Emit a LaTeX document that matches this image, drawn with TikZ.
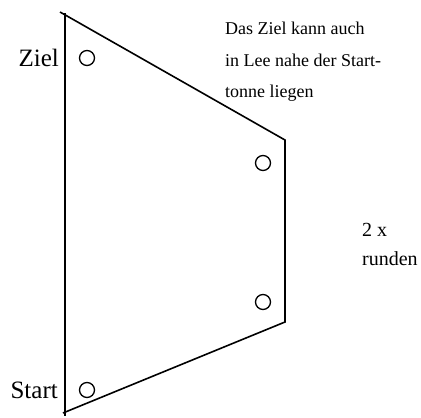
\documentclass[tikz,border=0pt]{standalone}
\usepackage{fontspec}
\setmainfont{Liberation Serif}
\begin{document}
\begin{tikzpicture}[x=1pt,y=-1pt,
  edge/.style={line width=1.6pt},
  thick edge/.style={line width=2.6pt},
  buoy/.style={circle,draw,line width=1.3pt,minimum size=15pt,inner sep=0pt},
  big/.style={font=\fontsize{25}{28}\selectfont,inner sep=0pt},
  small/.style={font=\fontsize{18}{21}\selectfont,inner sep=0pt},
  side/.style={font=\fontsize{20}{23}\selectfont,inner sep=0pt}]
\useasboundingbox (0,0) rectangle (421,418);
\coordinate (vt) at (65,13);
\coordinate (vb) at (65,416);
\coordinate (tl) at (60,12);
\coordinate (tr) at (285,140);
\coordinate (br) at (285,322);
\coordinate (bl) at (63,413);
\draw[thick edge] (vt) -- (vb);
\draw[edge] (tl) -- (tr) -- (br) -- (bl);
\node[buoy] (b1) at (87,58) {};
\node[buoy] (b2) at (263,163) {};
\node[buoy] (b3) at (263,302) {};
\node[buoy] (b4) at (87,390) {};
\node[big,anchor=base east] (ziel) at (59,66) {Ziel};
\node[big,anchor=base east] (start) at (58,398) {Start};
\node[small,anchor=base west] (t1) at (225,34) {Das Ziel kann auch};
\node[small,anchor=base west] (t2) at (225,66) {in Lee nahe der Start-};
\node[small,anchor=base west] (t3) at (225,97) {tonne liegen};
\node[side,anchor=base west] (r1) at (362,236) {2 x};
\node[side,anchor=base west] (r2) at (362,265) {runden};
\end{tikzpicture}
\end{document}
